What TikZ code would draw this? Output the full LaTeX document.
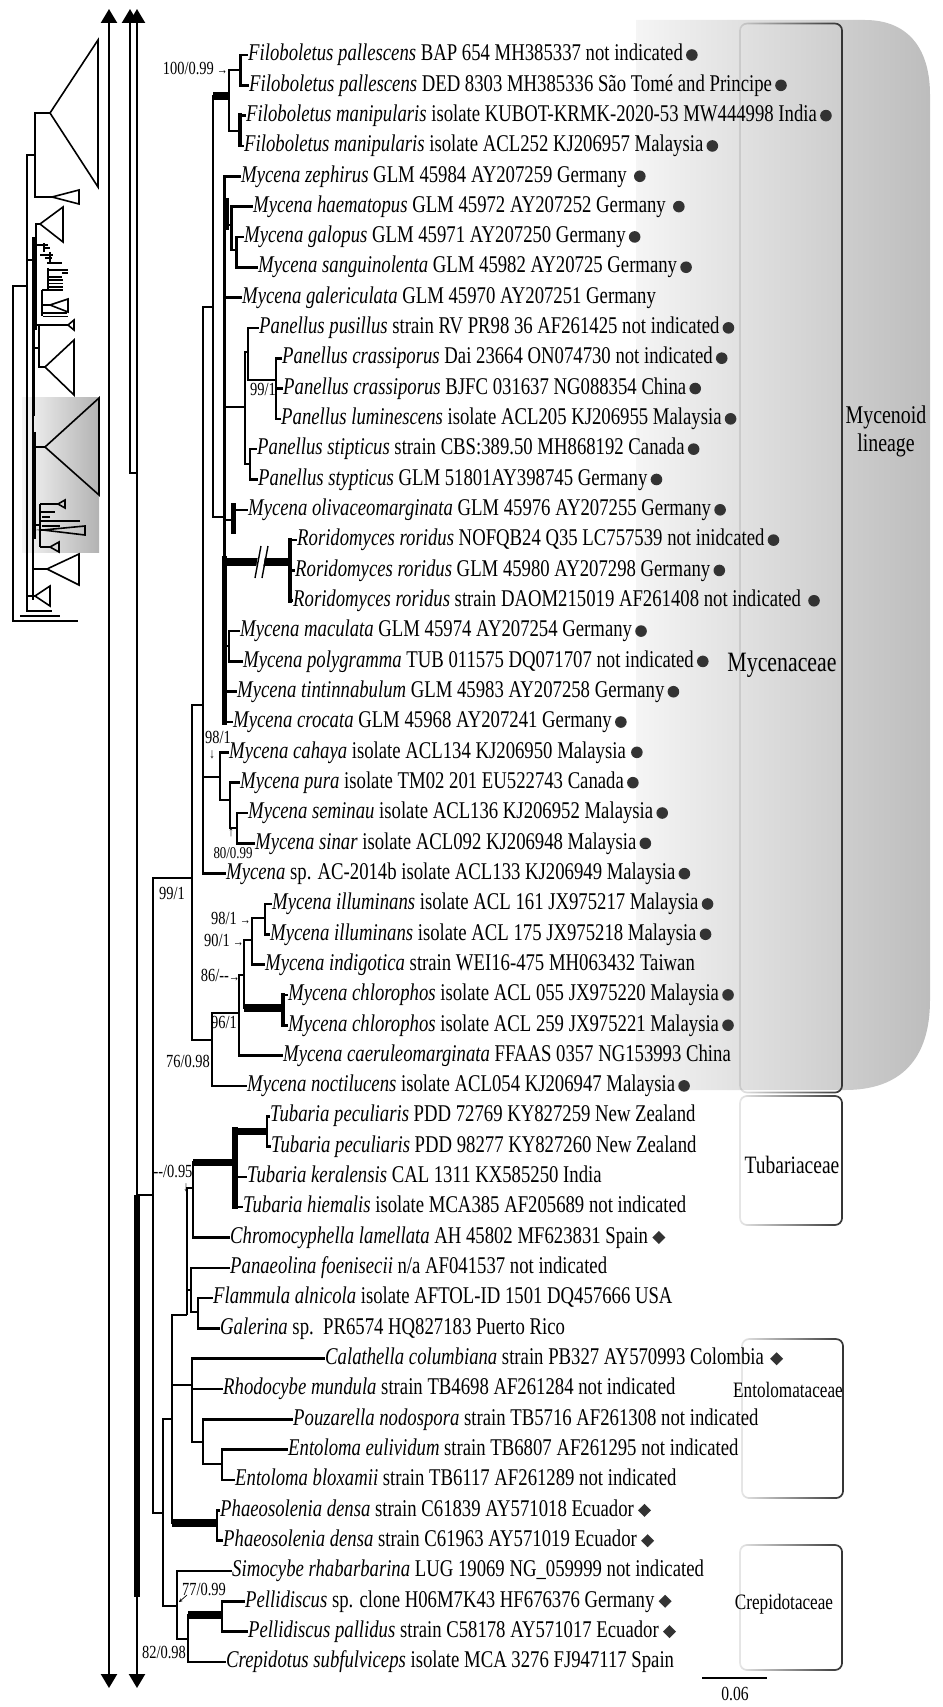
\documentclass[tikz,border=0pt]{standalone}
\usepackage{fontspec}
\setmainfont{Liberation Serif}[FakeStretch=0.78]
\usetikzlibrary{arrows.meta,fadings}
\tikzfading[name=boxfade, left color=transparent!88, right color=transparent!0]
\newcommand\leafn[4]{\node[leaf] (#1) at (#2,{55+(#3-1)*30.32}) {#4};}
\newcommand\brn[2]{\draw[br] (#1) |- (#2);}
\newcommand\brl[2]{\draw[br] (#1) |- (#2.west);}
\newcommand\brt[3][7.5]{\draw[br] (#2) |- (#3); \draw[line width=#1pt] (#2 |- #3) -- (#3);}
\newcommand\dotafter[2][3]{\fill[mk] ([xshift=#1pt+5.8pt]#2.east) circle (5.8pt);}
\newcommand\diaafter[2][4]{\fill[mk] ([xshift=#1pt]#2.east) -- ++(6.5,-6.5) -- ++(6.5,6.5) -- ++(-6.5,6.5) -- cycle;}
\begin{document}
\begin{tikzpicture}[x=1pt,y=-1pt,
  br/.style={line width=2.6pt},
  leaf/.style={anchor=west, inner sep=0pt, text height=16.8pt, text depth=5.3pt, font=\fontsize{24}{26}\selectfont},
  sup/.style={inner sep=0pt, font=\fontsize{18.5}{20}\selectfont},
  sarr/.style={inner sep=0pt, font=\fontsize{14}{14}\selectfont},
  fam/.style={inner sep=0pt, font=\fontsize{22}{24}\selectfont},
  mk/.style={fill=black!80},
  boxl/.style={draw=black!80, line width=1.7pt, rounded corners=7pt, path fading=boxfade},
  thumb/.style={line width=1.6pt},
  bigarrow/.style={line width=2.4pt},
  tipA/.tip={Triangle[width=16pt,length=14pt]}]
\useasboundingbox (0,0) rectangle (942,1707);

% ---------- backgrounds ----------
\shade[left color=black!4, right color=black!26]
  (636,20) -- (865,20) .. controls (905,20) and (930,45) .. (930,95) -- (930,1000)
  .. controls (930,1060) and (900,1090) .. (845,1090) -- (636,1090) -- cycle;
\shade[left color=black!4, right color=black!30] (22,397) rectangle (99,552);

\draw[boxl] (740,22) rectangle (842,1092);
\draw[boxl] (740,1096) rectangle (842,1225);
\draw[boxl] (742,1339) rectangle (843,1498);
\draw[boxl] (740,1545) rectangle (842,1670);

\node[inner sep=0pt, align=center, font=\fontsize{25.5}{28}\selectfont] (lab1) at (886,431) {Mycenoid\\lineage};
\node[inner sep=0pt, font=\fontsize{28}{30}\selectfont] (lab2) at (782,665) {Mycenaceae};
\node[inner sep=0pt, font=\fontsize{25}{27}\selectfont] (lab3) at (792,1165) {Tubariaceae};
\node[fam] (lab4) at (788,1390) {Entolomataceae};
\node[fam] (lab5) at (784,1604) {Crepidotaceae};

% ---------- thumbnail ----------
\begin{scope}[thumb]
\draw (50,113) -- (98,40) -- (98,187) -- cycle;
\draw (50,113) -| (35,197) -- (52,197);
\draw (52,197) -- (79,190) -- (79,204) -- cycle;
\draw (35,155) -- (27,155) -- (27,612);
\draw (27,286) -- (13,286) -- (13,621) -- (78,621);
\draw (40,224) -- (63,207) -- (63,242) -- cycle;
\draw (40,224) -- (36,224) -- (36,330);
\draw (27,260) -- (36,260);
\draw (37,245) -- (48,245) (43,248) -- (50,248) (40,255) -- (53,255) (45,258) -- (52,258) (47,263) -- (62,263);
\draw (44,243) -- (44,252) (50,252) -- (50,262);
\draw (48,270) -- (68,270) (62,273) -- (68,273) (48,277) -- (62,277) (48,268) -- (48,290);
\draw[line width=1.3pt] (47,280) -- (63,280) (47,283.5) -- (63,283.5) (47,287) -- (63,287);
\draw (42,290) -- (63,290) (42,290) -- (42,316);
\draw (50,305) -- (68,299) -- (68,312) -- cycle;
\draw (42,305) -- (50,305) (42,313) -- (67,313) (43,316.5) -- (68,316.5);
\draw (68,325) -- (74,320) -- (74,330) -- cycle;
\draw (36,325) -- (68,325);
\draw (39,325) -- (39,367) -- (45,367);
\draw (33,348) -- (39,348);
\draw (45,367) -- (74,340) -- (74,395) -- cycle;
\draw (45,447) -- (99,398) -- (99,495) -- cycle;
\draw (33,447) -- (45,447);
\draw (40,504) -- (40,547) (40,504) -- (58,504);
\draw (58,504) -- (65,500) -- (65,508) -- cycle;
\draw (40,512) -- (55,512) (42,517) -- (50,517) (40,521) -- (80,521) (42,526) -- (60,526);
\draw (43,530) -- (85,526) -- (85,535) -- cycle;
\draw (40,530) -- (43,530);
\draw (50,547) -- (59,542) -- (59,552) -- cycle;
\draw (40,547) -- (50,547) (33,525) -- (40,525);
\draw (47,569) -- (79,554) -- (79,585) -- cycle;
\draw (33,569) -- (47,569);
\draw (35,596) -- (50,586) -- (50,606) -- cycle;
\draw (27,596) -- (35,596) (27,611) -- (52,611) (20,616) -- (60,616);
\draw (33,237) -- (33,600);
\draw[line width=3pt] (33,237) -- (33,416) (34,432) -- (34,539);
\end{scope}

% ---------- big arrows ----------
\coordinate (aAt) at (109,9);
\coordinate (aAb) at (109,1688);
\coordinate (aBt) at (130,9);
\coordinate (aBb) at (130,473);
\coordinate (aCt) at (137,9);
\coordinate (aCb) at (137,1688);
\coordinate (aCm) at (137,473);
\draw[bigarrow, tipA-tipA] (aAt) -- (aAb);
\draw[bigarrow, tipA-] (aBt) -- (aBb) -- (aCm);
\draw[bigarrow, tipA-tipA] (aCt) -- (aCb);
\coordinate (root) at (137,1195);
\coordinate (rootb) at (137,1597);
\draw[line width=5.5pt] (root) -- (rootb);

% ---------- leaves ----------
\leafn{L1}{248}{1}{\textit{Filoboletus pallescens} BAP 654 MH385337 not indicated}
\leafn{L2}{249}{2}{\textit{Filoboletus pallescens} DED 8303 MH385336 São Tomé and Principe}
\leafn{L3}{246}{3}{\textit{Filoboletus manipularis} isolate KUBOT-KRMK-2020-53 MW444998 India}
\leafn{L4}{244}{4}{\textit{Filoboletus manipularis} isolate ACL252 KJ206957 Malaysia}
\leafn{L5}{241}{5}{\textit{Mycena zephirus} GLM 45984 AY207259 Germany}
\leafn{L6}{253}{6}{\textit{Mycena haematopus} GLM 45972 AY207252 Germany}
\leafn{L7}{244}{7}{\textit{Mycena galopus} GLM 45971 AY207250 Germany}
\leafn{L8}{258}{8}{\textit{Mycena sanguinolenta} GLM 45982 AY20725 Germany}
\leafn{L9}{242}{9}{\textit{Mycena galericulata} GLM 45970 AY207251 Germany}
\leafn{L10}{259}{10}{\textit{Panellus pusillus} strain RV PR98 36 AF261425 not indicated}
\leafn{L11}{282}{11}{\textit{Panellus crassiporus} Dai 23664 ON074730 not indicated}
\leafn{L12}{283}{12}{\textit{Panellus crassiporus} BJFC 031637 NG088354 China}
\leafn{L13}{281}{13}{\textit{Panellus luminescens} isolate ACL205 KJ206955 Malaysia}
\leafn{L14}{257}{14}{\textit{Panellus stipticus} strain CBS:389.50 MH868192 Canada}
\leafn{L15}{258}{15}{\textit{Panellus stypticus} GLM 51801AY398745 Germany}
\leafn{L16}{248}{16}{\textit{Mycena olivaceomarginata} GLM 45976 AY207255 Germany}
\leafn{L17}{297}{17}{\textit{Roridomyces roridus} NOFQB24 Q35 LC757539 not inidcated}
\leafn{L18}{295}{18}{\textit{Roridomyces roridus} GLM 45980 AY207298 Germany}
\leafn{L19}{293}{19}{\textit{Roridomyces roridus} strain DAOM215019 AF261408 not indicated}
\leafn{L20}{240}{20}{\textit{Mycena maculata} GLM 45974 AY207254 Germany}
\leafn{L21}{243}{21}{\textit{Mycena polygramma} TUB 011575 DQ071707 not indicated}
\leafn{L22}{237}{22}{\textit{Mycena tintinnabulum} GLM 45983 AY207258 Germany}
\leafn{L23}{233}{23}{\textit{Mycena crocata} GLM 45968 AY207241 Germany}
\leafn{L24}{229}{24}{\textit{Mycena cahaya} isolate ACL134 KJ206950 Malaysia}
\leafn{L25}{240}{25}{\textit{Mycena pura} isolate TM02 201 EU522743 Canada}
\leafn{L26}{248}{26}{\textit{Mycena seminau} isolate ACL136 KJ206952 Malaysia}
\leafn{L27}{255}{27}{\textit{Mycena sinar} isolate ACL092 KJ206948 Malaysia}
\leafn{L28}{226}{28}{\textit{Mycena} sp. AC-2014b isolate ACL133 KJ206949 Malaysia}
\leafn{L29}{272}{29}{\textit{Mycena illuminans} isolate ACL 161 JX975217 Malaysia}
\leafn{L30}{270}{30}{\textit{Mycena illuminans} isolate ACL 175 JX975218 Malaysia}
\leafn{L31}{265}{31}{\textit{Mycena indigotica} strain WEI16-475 MH063432 Taiwan}
\leafn{L32}{288}{32}{\textit{Mycena chlorophos} isolate ACL 055 JX975220 Malaysia}
\leafn{L33}{288}{33}{\textit{Mycena chlorophos} isolate ACL 259 JX975221 Malaysia}
\leafn{L34}{283}{34}{\textit{Mycena caeruleomarginata} FFAAS 0357 NG153993 China}
\leafn{L35}{247}{35}{\textit{Mycena noctilucens} isolate ACL054 KJ206947 Malaysia}
\leafn{L36}{270}{36}{\textit{Tubaria peculiaris} PDD 72769 KY827259 New Zealand}
\leafn{L37}{271}{37}{\textit{Tubaria peculiaris} PDD 98277 KY827260 New Zealand}
\leafn{L38}{247}{38}{\textit{Tubaria keralensis} CAL 1311 KX585250 India}
\leafn{L39}{243}{39}{\textit{Tubaria hiemalis} isolate MCA385 AF205689 not indicated}
\leafn{L40}{230}{40}{\textit{Chromocyphella lamellata} AH 45802 MF623831 Spain}
\leafn{L41}{230}{41}{\textit{Panaeolina foenisecii} n/a AF041537 not indicated}
\leafn{L42}{213}{42}{\textit{Flammula alnicola} isolate AFTOL-ID 1501 DQ457666 USA}
\leafn{L43}{220}{43}{\textit{Galerina} sp.\ \ PR6574 HQ827183 Puerto Rico}
\leafn{L44}{325}{44}{\textit{Calathella columbiana} strain PB327 AY570993 Colombia}
\leafn{L45}{223}{45}{\textit{Rhodocybe mundula} strain TB4698 AF261284 not indicated}
\leafn{L46}{293}{46}{\textit{Pouzarella nodospora} strain TB5716 AF261308 not indicated}
\leafn{L47}{288}{47}{\textit{Entoloma eulividum} strain TB6807 AF261295 not indicated}
\leafn{L48}{235}{48}{\textit{Entoloma bloxamii} strain TB6117 AF261289 not indicated}
\leafn{L49}{220}{49}{\textit{Phaeosolenia densa} strain C61839 AY571018 Ecuador}
\leafn{L50}{223}{50}{\textit{Phaeosolenia densa} strain C61963 AY571019 Ecuador}
\leafn{L51}{232}{51}{\textit{Simocybe rhabarbarina} LUG 19069 NG\_059999 not indicated}
\leafn{L52}{245}{52}{\textit{Pellidiscus} sp. clone H06M7K43 HF676376 Germany}
\leafn{L53}{248}{53}{\textit{Pellidiscus pallidus} strain C58178 AY571017 Ecuador}
\leafn{L54}{226}{54}{\textit{Crepidotus subfulviceps} isolate MCA 3276 FJ947117 Spain}

% markers
\dotafter{L1}\dotafter{L2}\dotafter{L3}\dotafter{L4}\dotafter[7]{L5}\dotafter[7]{L6}
\dotafter{L7}\dotafter{L8}\dotafter{L10}\dotafter{L11}\dotafter{L12}\dotafter{L13}
\dotafter{L14}\dotafter{L15}\dotafter{L16}\dotafter{L17}\dotafter{L18}\dotafter[7]{L19}
\dotafter{L20}\dotafter{L21}\dotafter{L22}\dotafter{L23}\dotafter[5]{L24}\dotafter{L25}
\dotafter{L26}\dotafter{L27}\dotafter{L28}\dotafter{L29}\dotafter{L30}\dotafter{L32}
\dotafter{L33}\dotafter{L35}
\diaafter{L40}\diaafter[6]{L44}\diaafter{L49}\diaafter{L50}\diaafter{L52}\diaafter{L53}

% ---------- internal nodes ----------
\coordinate (nFpal) at (240.5,70);
\coordinate (nFman) at (240,131);
\coordinate (nFil) at (229,96);
\coordinate (nM1) at (213,307);
\coordinate (nP) at (224.5,517);
\coordinate (nHae) at (231.5,225);
\coordinate (nGS) at (236.5,250);
\coordinate (nPan) at (245,407);
\coordinate (nPC) at (248,352);
\coordinate (nCra) at (276,380);
\coordinate (nSt) at (250,464);
\coordinate (nOl) at (233,520);
\coordinate (nRor) at (290,562);
\coordinate (nMac) at (229,646);
\coordinate (nM0) at (203,705);
\coordinate (n98) at (220,777);
\coordinate (nPura) at (230,800);
\coordinate (nSS) at (237,828);
\coordinate (nM00) at (192,878);
\coordinate (n76) at (212,1040);
\coordinate (n96) at (239,1013);
\coordinate (nB) at (244,975);
\coordinate (nC) at (252,940);
\coordinate (nIll) at (265,918);
\coordinate (nCh) at (283,1008);
\coordinate (nR2) at (153,1195);
\coordinate (n163) at (163,1513);
\coordinate (n172) at (172,1419);
\coordinate (nAg) at (187,1315);
\coordinate (nTC) at (193,1188);
\coordinate (nTub) at (235,1162);
\coordinate (nTpec) at (267,1131);
\coordinate (nPFG) at (191,1290);
\coordinate (nFG) at (198,1312);
\coordinate (nEnt) at (192,1385);
\coordinate (nPE) at (203,1442);
\coordinate (nEE) at (222,1464);
\coordinate (nPha) at (217,1523);
\coordinate (nCrep) at (177,1606);
\coordinate (nPC2) at (188,1639);
\coordinate (nPel) at (222,1615);

% ---------- branches ----------
\brn{root}{nR2}
\brn{nR2}{nM00}\brn{nR2}{n163}
\brn{nM00}{nM0}\brn{nM00}{n76}
\brn{nM0}{nM1}\brn{nM0}{n98}\brl{nM0}{L28}
\brt{nM1}{nFil}\brn{nM1}{nP}
\brn{nFil}{nFpal}\brn{nFil}{nFman}
\brl{nFpal}{L1}\brl{nFpal}{L2}\brl{nFman}{L3}\brl{nFman}{L4}
\draw[line width=4.5pt] (240,113) -- (240,147);
\brl{nP}{L5}\brn{nP}{nHae}\brl{nP}{L9}\brn{nP}{nPan}\brn{nP}{nOl}
\brt[8]{nP}{nRor}\brn{nP}{nMac}\brl{nP}{L22}\brl{nP}{L23}
\draw[line width=5pt] (226,198) -- (226,230);
\draw[line width=5pt] (224.5,556) -- (224.5,725);
\draw[line width=5pt] (233,503) -- (233,534);
\brl{nOl}{L16}
\brl{nHae}{L6}\brn{nHae}{nGS}\brl{nGS}{L7}\brl{nGS}{L8}
\brn{nPan}{nPC}\brn{nPan}{nSt}
\brl{nPC}{L10}\brn{nPC}{nCra}
\brl{nCra}{L11}\brl{nCra}{L12}\brl{nCra}{L13}
\brl{nSt}{L14}\brl{nSt}{L15}
\brl{nRor}{L17}\brl{nRor}{L18}\brl{nRor}{L19}
\draw[line width=4.5pt] (290,538) -- (290,603);
\fill[white] (258,556) -- (265,556) -- (263,568) -- (256,568) -- cycle;
\draw[line width=1.4pt] (255,578) -- (261,546) (262,578) -- (268,546);
\brl{nMac}{L20}\brl{nMac}{L21}
\brl{n98}{L24}\brn{n98}{nPura}
\brl{nPura}{L25}\brn{nPura}{nSS}
\brl{nSS}{L26}\brl{nSS}{L27}
\brn{n76}{n96}\brl{n76}{L35}
\brn{n96}{nB}\brl{n96}{L34}
\brn{nB}{nC}\brt[8.5]{nB}{nCh}
\brn{nC}{nIll}\brl{nC}{L31}
\brl{nIll}{L29}\brl{nIll}{L30}
\brl{nCh}{L32}\brl{nCh}{L33}
\draw[line width=4pt] (283,993) -- (283,1027);
\brn{n163}{n172}\brn{n163}{nCrep}
\brn{n172}{nAg}\brn{n172}{nEnt}\brt[8]{n172}{nPha}
\brn{nAg}{nTC}\brn{nAg}{nPFG}
\brt[7]{nTC}{nTub}\brl{nTC}{L40}
\brt[7]{nTub}{nTpec}\brl{nTub}{L38}\brl{nTub}{L39}
\draw[line width=6pt] (235,1127) -- (235,1209);
\brl{nTpec}{L36}\brl{nTpec}{L37}
\brl{nPFG}{L41}\brn{nPFG}{nFG}
\brl{nFG}{L42}\brl{nFG}{L43}
\brl{nEnt}{L44}\brl{nEnt}{L45}\brn{nEnt}{nPE}
\brl{nPE}{L46}\brn{nPE}{nEE}
\brl{nEE}{L47}\brl{nEE}{L48}
\brl{nPha}{L49}\brl{nPha}{L50}
\brl{nCrep}{L51}\brn{nCrep}{nPC2}
\brt[8]{nPC2}{nPel}\brl{nPC2}{L54}
\brl{nPel}{L52}\brl{nPel}{L53}

% ---------- support values ----------
\node[sup, anchor=east] (s1) at (228,68) {100/0.99\,{\fontsize{14}{14}\selectfont →}};
\node[sup] (s2) at (263,389) {99/1};
\node[sup] (s3) at (218,737) {98/1};
\node[sarr] (s3a) at (212,755) {↓};
\node[sarr] (s4a) at (231,833) {↑};
\node[inner sep=0pt, font=\fontsize{16.5}{18}\selectfont] (s4) at (233,853) {80/0.99};
\node[sup] (s5) at (172,893) {99/1};
\node[sup, anchor=east] (s6) at (251,918) {98/1\,{\fontsize{14}{14}\selectfont →}};
\node[sup, anchor=east] (s7) at (244,940) {90/1\,{\fontsize{14}{14}\selectfont →}};
\node[sup, anchor=east] (s8) at (240,975) {86/-{}-{\fontsize{14}{14}\selectfont →}};
\node[sup] (s9) at (224,1022) {96/1};
\node[sup] (s10) at (188,1061) {76/0.98};
\node[sup] (s11) at (173,1171) {-{}-/0.95};
\node[sarr] (s11a) at (186,1188) {↓};
\node[sup] (s12) at (204,1589) {77/0.99};
\coordinate (s12a) at (187,1595);
\coordinate (s12b) at (179,1602);
\draw[line width=0.7pt, -{Stealth[length=3.5pt,width=3.5pt]}] (s12a) -- (s12b);
\node[sup] (s13) at (164,1652) {82/0.98};

% ---------- scale bar ----------
\coordinate (sb1) at (702,1678);
\coordinate (sb2) at (767,1678);
\draw[line width=2pt] (sb1) -- (sb2);
\node[inner sep=0pt, font=\fontsize{20}{22}\selectfont] (sbl) at (735,1694) {0.06};
\end{tikzpicture}
\end{document}
